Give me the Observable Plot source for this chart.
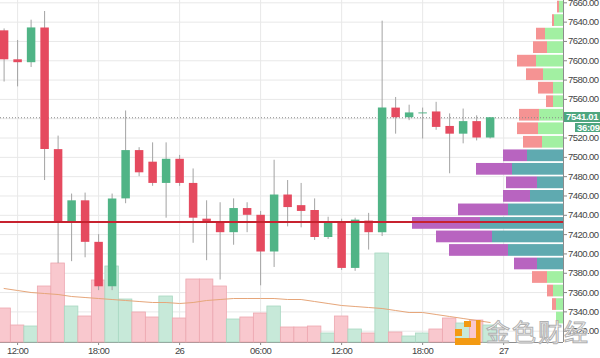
<!DOCTYPE html>
<html>
<head>
<meta charset="utf-8">
<script src="https://cdn.jsdelivr.net/npm/d3@7"></script>
<script src="https://cdn.jsdelivr.net/npm/@observablehq/plot@0.6"></script>
<style>
  body { margin: 0; background: #fff; }
  #chart { position: relative; width: 600px; height: 358px; overflow: hidden; background: #fff;
           font-family: "Liberation Sans", Arial, sans-serif; }
  #chart svg { position: absolute; left: 0; top: 0; background: transparent; }
  #chart svg.base text { letter-spacing: -0.55px; }
  .tag { position: absolute; background: #4ea67f; color: #fff; font: bold 9.5px "Liberation Sans", Arial, sans-serif;
         letter-spacing: -0.3px; line-height: 10px; height: 10px; padding: 0 0 0 2px; white-space: nowrap; overflow: hidden; }
  .wm { position: absolute; font: 24px "Noto Sans CJK SC", sans-serif; color: rgba(255,255,255,0.92);
        -webkit-text-stroke: 1px #b0b0b0; letter-spacing: 2px; white-space: nowrap; line-height: 24px; height: 24px; }
</style>
</head>
<body>
<div id="chart"></div>
<script>
// ---------- data ----------
const firstHour = "2019-11-25T11:00Z";
const lastHourEnd = "2019-11-27T00:00Z";
// hourly OHLC (BTC/USD), 25 Nov 11:00 -> 26 Nov 23:00
const open  = [7631,7601,7598,7634,7508,7432,7455,7412,7366,7457,7507,7495,7473,7498,7473,7436,7432,7422,7447,7440,7402,7461,7450,7445,7417,7433,7385,7434,7422,7551,7541,7545,7547,7532,7524,7537,7520];
const high  = [7633,7621,7642,7651,7522,7462,7463,7420,7462,7548,7510,7515,7515,7502,7488,7455,7453,7457,7453,7444,7497,7476,7473,7457,7438,7436,7437,7442,7641,7562,7554,7551,7557,7545,7550,7543,7541.01];
const low   = [7578,7573,7593,7476,7390,7392,7396,7362,7362,7452,7480,7470,7437,7470,7411,7393,7373,7409,7422,7367,7386,7428,7427,7414,7415,7383,7382,7404,7418,7524,7538,7519,7528,7483,7514,7517,7519];
const close = [7601,7598,7634,7508,7433,7455,7412,7366,7457,7507,7484,7473,7498,7473,7437,7432,7422,7447,7440,7402,7461,7448,7444,7417,7433,7385,7435,7422,7551,7541,7546,7546,7531,7524,7537,7520,7541.01];
const volume = [34,17,16,56,79,36,26,62,76,43,30,25,46,24,63,63,56,23,25,29,36,15,15,16,9,26,13,9,89,10,6,9,13,24,19,22,17];
const volumeMA = [54,52,50,49,48,46,45,44,43,42,41,40,40,39,40,42,43,44,44,44,44,43,43,41,39,37,36,35,34,32,30,30,28,26,24,22,20];

const lastPrice = 7541.01;
const countdown = "36:09";
const keyLevel = 7433;

// volume profile rows (top price of each row), up / down volume
const profileTop  = [7662.6,7648.6,7634.6,7620.6,7606.6,7592.6,7578.6,7564.6,7550.6,7536.6,7522.6,7508.6,7494.6,7480.6,7466.6,7452.6,7438.6,7424.6,7410.6,7396.6,7382.6,7368.6,7354.6,7340.6];
const profileRow  = 14;
const profileUp   = [4,9,18,16,27,20,10,10,24,25,21,36,51,26,33,55,83,71,55,26,16,10,7,7];
const profileDown = [2,2,9,14,19,17,15,7,20,21,19,24,36,31,27,50,68,56,59,23,15,6,4,0];
const valueAreaHigh = 7508.6, valueAreaLow = 7382.6;

const yGrid = [7320,7340,7360,7380,7400,7420,7440,7460,7480,7500,7520,7540,7560,7580,7600,7620,7640,7660];
// 7540.00 is hidden under the last-price tag in the original
const yLabels = [7320,7340,7360,7380,7400,7420,7440,7460,7480,7500,7520,7560,7580,7600,7620,7640,7660];
const xTickDates = ["2019-11-25T12:00Z","2019-11-25T18:00Z","2019-11-26T00:00Z","2019-11-26T06:00Z","2019-11-26T12:00Z","2019-11-26T18:00Z","2019-11-27T00:00Z"];

// ---------- tables ----------
const times = d3.utcHour.range(new Date(firstHour), new Date(lastHourEnd));
const candles = times.map((t, i) => ({t, open: open[i], high: high[i], low: low[i], close: close[i],
  up: close[i] >= open[i], vol: volume[i], ma: volumeMA[i]}));
const xTicks = xTickDates.map(s => new Date(s));
const profileRows = [];
profileTop.forEach((hi, k) => {
  const inVA = hi <= valueAreaHigh + 0.1 && hi - profileRow >= valueAreaLow - 0.1;
  profileRows.push({hi, lo: hi - profileRow, x1: 0, x2: profileUp[k], fill: inVA ? "#5faab0" : "#a2f0a2"});
  if (profileDown[k] > 0)
    profileRows.push({hi, lo: hi - profileRow, x1: profileUp[k], x2: profileUp[k] + profileDown[k], fill: inVA ? "#b864c0" : "#f59393"});
});

// ---------- scales / layout ----------
const t0 = new Date(firstHour);
const xDomain = [d3.utcMinute.offset(t0, -15.6), d3.utcMinute.offset(t0, 41.44 * 60)];
const yDomain = [7308.3, 7662.4];
const common = {width: 600, height: 358, marginLeft: 0, marginRight: 37, marginTop: 0, marginBottom: 16,
  style: {background: "transparent", fontFamily: "Liberation Sans, Arial, sans-serif", fontSize: "9.5px", color: "#444", overflow: "visible"}};
const fmtX = d => d.getUTCHours() === 0 ? String(d.getUTCDate()) : d3.utcFormat("%H:%M")(d);

const chart = document.getElementById("chart");

// base: grid + axes
const baseLayer = Plot.plot({...common,
  x: {type: "utc", domain: xDomain, axis: null},
  y: {domain: yDomain, axis: null},
  marks: [
    Plot.gridY(yGrid, {stroke: "#e8e8e8", strokeOpacity: 1}),
    Plot.gridX(xTicks, {stroke: "#e8e8e8", strokeOpacity: 1}),
    Plot.axisY(yLabels, {anchor: "right", tickFormat: d => d.toFixed(2), tickSize: 3, tickPadding: 1.5, stroke: "#888", fill: "#444", label: null, fontSize: 9.5}),
    Plot.axisX(xTicks, {anchor: "bottom", tickFormat: fmtX, tickSize: 3, tickPadding: 2, stroke: "#888", fill: "#444", label: null, fontSize: 9.5}),
    Plot.ruleY([yDomain[0]], {stroke: "#8c8c8c"}),
    Plot.ruleX([xDomain[1]], {stroke: "#8c8c8c"})
  ]
});
baseLayer.classList.add("base");
chart.appendChild(baseLayer);

// volume bars + moving average
const volLayer = Plot.plot({...common,
  x: {type: "utc", domain: xDomain, axis: null},
  y: {domain: [0, 100], range: [342, 242], axis: null},
  marks: [
    Plot.rect(candles, {x1: d => d3.utcMinute.offset(d.t, -30), x2: d => d3.utcMinute.offset(d.t, 30), y1: 0, y2: "vol",
      fill: d => d.up ? "#c7e9d9" : "#f9c8ce", stroke: d => d.up ? "#a8d8c1" : "#eda7b0", strokeWidth: 0.8}),
    Plot.line(candles, {x: "t", y: "ma", stroke: "#e6a67a", strokeWidth: 1})
  ]
});
chart.appendChild(volLayer);

// volume profile
const profLayer = Plot.plot({...common,
  x: {domain: [0, 100], range: [563, 463], axis: null},
  y: {domain: yDomain, axis: null},
  marks: [
    Plot.rect(profileRows, {x1: "x1", x2: "x2", y1: "lo", y2: "hi", fill: "fill", insetTop: 0.9, insetBottom: 0.9})
  ]
});
chart.appendChild(profLayer);

// candles + levels
const priceLayer = Plot.plot({...common,
  x: {type: "utc", domain: xDomain, axis: null},
  y: {domain: yDomain, axis: null},
  marks: [
    Plot.ruleY([lastPrice], {stroke: "#8a8a8a", strokeDasharray: "1,2"}),
    Plot.ruleX(candles, {x: "t", y1: "low", y2: "high", stroke: "#a3a3a3", strokeWidth: 1}),
    Plot.ruleX(candles, {x: "t", y1: "open", y2: "close", stroke: d => d.up ? "#50b486" : "#e54a5f", strokeWidth: 8.5}),
    Plot.ruleY([keyLevel], {stroke: "#c7222f", strokeWidth: 2})
  ]
});
chart.appendChild(priceLayer);

// price tag + countdown
const py = priceLayer.scale("y").apply(lastPrice);
const tag = document.createElement("div");
tag.className = "tag"; tag.textContent = lastPrice.toFixed(2);
tag.style.left = "564px"; tag.style.top = (py - 5) + "px"; tag.style.width = "34px";
chart.appendChild(tag);
const cd = document.createElement("div");
cd.className = "tag"; cd.textContent = countdown;
cd.style.left = "575px"; cd.style.top = (py + 5.5) + "px"; cd.style.width = "23px"; cd.style.height = "9.5px"; cd.style.lineHeight = "9.5px";
chart.appendChild(cd);

// watermark
const logo = document.createElementNS("http://www.w3.org/2000/svg", "svg");
logo.setAttribute("width", "26"); logo.setAttribute("height", "26");
logo.style.left = "455px"; logo.style.top = "320px";
logo.innerHTML = '<g fill="#f39a12"><rect x="21" y="0" width="4.5" height="25"/><rect x="0" y="18" width="25" height="7"/><rect x="9" y="1" width="7" height="6"/><rect x="0" y="9" width="7" height="7"/></g>';
chart.appendChild(logo);
const wm = document.createElement("div");
wm.className = "wm"; wm.textContent = "金色财经";
wm.style.left = "486px"; wm.style.top = "319px";
chart.appendChild(wm);
</script>
</body>
</html>
